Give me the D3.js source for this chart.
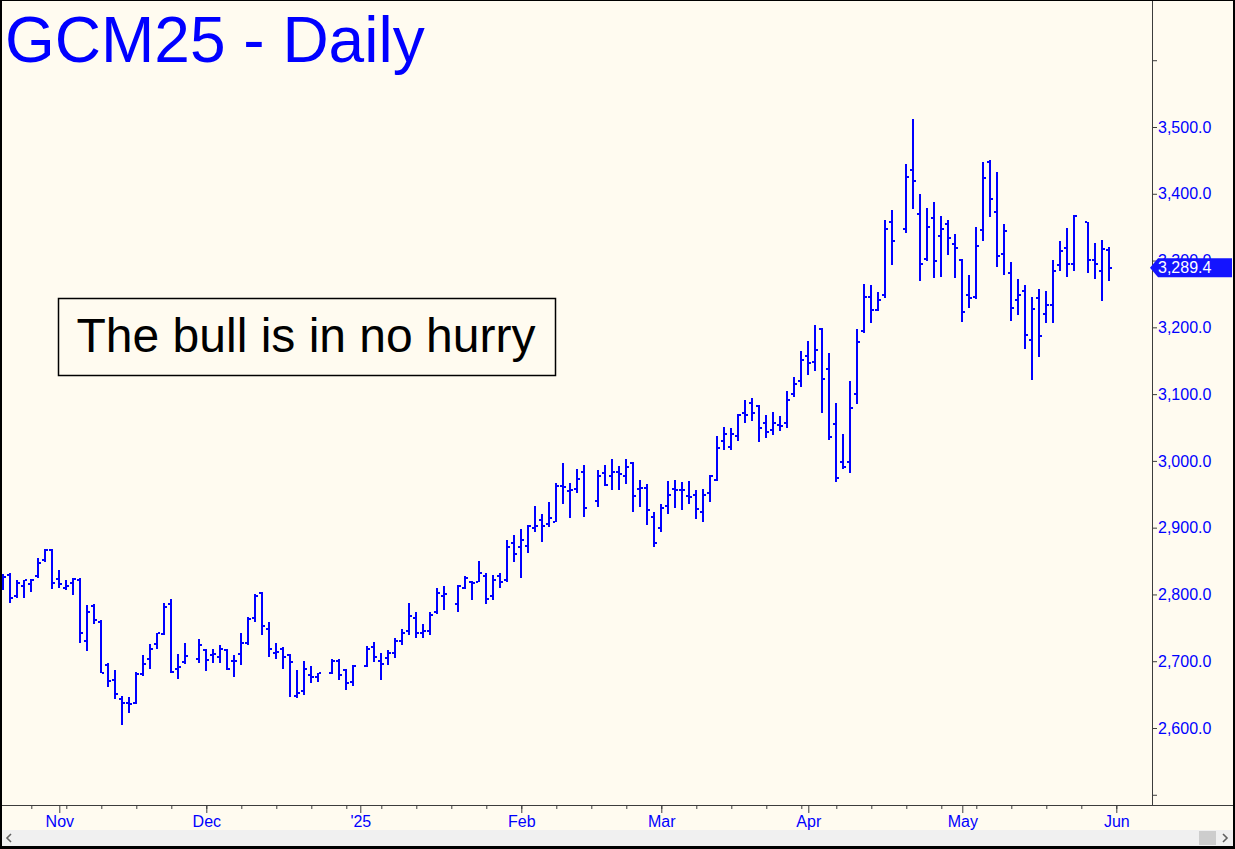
<!DOCTYPE html>
<html><head><meta charset="utf-8">
<script src="https://cdn.jsdelivr.net/npm/d3@7"></script>
<style>html,body{margin:0;padding:0;background:#fffbf0;overflow:hidden}</style>
</head><body>
<svg id="c" width="1235" height="849"></svg>
<script>
// ---- data ----
const firstSlot = "2024-10-22";   // first weekday slot shown
const lastSlot = "2025-06-06";    // last weekday slot of the axis
const opens = [2822,2829,2797,2813,2815,2827,2852,2867,
2823,2809,2817,2822,2731,2783,2759,2694,2672,2643,
2637,2637,2681,2703,2726,2741,2786,2689,2699,null,
2704,2717,2709,2706,2717,2700,2711,2727,2764,2802,
2748,2713,2719,2709,2648,2655,2679,2676,null,2682,
2701,2687,2669,null,2693,2722,2701,2705,2712,2730,
2745,2765,2742,2745,2773,2798,null,2786,2809,2819,
2818,2827,2798,2827,2822,2877,2871,2873,2899,2912,
2906,2909,2963,2955,2958,2984,null,2940,2982,2978,
2983,2978,2997,2958,2959,2916,2899,2932,2958,2957,
2948,2949,2923,2952,2971,3030,3021,3038,3071,3086,
3082,3056,3046,3054,3056,3100,3120,3157,3148,3198,
3137,3055,2998,2998,3100,3194,3246,3226,3249,3358,
null,3347,3436,3369,3302,3363,3337,3355,3325,3301,
3249,3246,3346,3447,3373,3310,3281,3241,3254,3181,
3244,3220,3234,3294,3319,3295,null,3357,3301,3285,
3316];
const highs = [2831,2832,2822,2822,2823,2854,2868,2868,
2837,2822,2824,2824,2784,2786,2761,2697,2687,2648,
2646,2684,2709,2726,2743,2787,2793,2711,2727,null,
2733,2718,2719,2724,2718,2709,2743,2766,2801,2803,
2759,2728,2722,2711,2687,2700,2693,2683,null,2703,
2703,2688,2694,null,2723,2729,2713,2717,2735,2748,
2787,2774,2755,2774,2809,2812,null,2814,2827,2820,
2850,2832,2829,2832,2881,2889,2898,2904,2932,2921,
2939,2967,2997,2967,2988,2994,null,2987,2994,3003,
2992,3003,2998,2971,2966,2924,2936,2970,2972,2968,
2970,2956,2958,2979,3037,3051,3050,3070,3091,3094,
3084,3068,3073,3067,3105,3126,3164,3180,3204,3199,
3162,3087,3040,3120,3198,3265,3264,3253,3361,3375,
null,3445,3512,3399,3379,3387,3366,3361,3340,3302,
3279,3350,3447,3451,3433,3355,3298,3273,3264,3246,
3257,3255,3301,3330,3349,3368,null,3358,3326,3331,
3320];
const lows = [2807,2787,2794,2794,2803,2824,2848,2808,
2809,2807,2799,2727,2716,2755,2682,2661,2643,2605,
2623,2636,2678,2688,2719,2739,2682,2673,2696,null,
2698,2686,2698,2698,2687,2676,2694,2724,2758,2739,
2707,2704,2689,2646,2645,2650,2667,2669,null,2681,
2672,2657,2663,null,2691,2699,2672,2695,2705,2725,
2740,2735,2735,2740,2771,2777,null,2773,2808,2791,
2818,2786,2791,2809,2819,2849,2825,2862,2894,2879,
2901,2908,2936,2914,2952,2916,null,2931,2962,2956,
2956,2966,2923,2931,2904,2871,2893,2920,2930,2927,
2936,2913,2909,2938,2970,3016,3017,3030,3057,3059,
3029,3034,3039,3045,3050,3095,3110,3128,3135,3071,
3031,2969,2988,2982,3085,3191,3207,3224,3244,3294,
null,3342,3377,3269,3299,3274,3276,3308,3274,3208,
3229,3242,3330,3365,3291,3278,3209,3218,3168,3121,
3155,3207,3206,3285,3276,3284,null,3281,3272,3240,
3269];
const closes = [2826,2794,2817,2821,2822,2847,2867,2817,
2816,2813,2823,2743,2774,2762,2683,2671,2651,2637,
2636,2681,2696,2719,2742,2781,2684,2691,2708,null,
2724,2702,2711,2718,2689,2701,2728,2763,2798,2753,
2719,2714,2706,2699,2653,2689,2676,2682,null,2701,
2679,2667,2693,null,2719,2706,2696,2712,2730,2742,
2767,2742,2745,2769,2802,2801,null,2812,2824,2817,
2832,2793,2822,2818,2871,2861,2882,2902,2903,2903,
2914,2963,2961,2957,2973,2929,null,2978,2964,2983,
2981,2991,2948,2959,2926,2877,2929,2949,2956,2956,
2946,2928,2949,2977,3019,3040,3040,3068,3069,3071,
3049,3044,3056,3052,3091,3115,3151,3147,3166,3122,
3036,2974,2991,3079,3178,3245,3226,3241,3347,3330,
null,3425,3419,3295,3350,3300,3348,3334,3319,3223,
3244,3322,3424,3392,3307,3345,3229,3249,3189,3227,
3187,3234,3285,3315,3295,3367,null,3301,3295,3318,
3289.4];
const monthTicks = ["2024-11-01","2024-12-02","2025-01-01","2025-02-03","2025-03-03","2025-04-01","2025-05-01","2025-06-02"];
const monthLabels = ["Nov","Dec","'25","Feb","Mar","Apr","May","Jun"];
const priceTicks = [2500,2600,2700,2800,2900,3000,3100,3200,3300,3400,3500,3600];
const labeledTicks = [2600,2700,2800,2900,3000,3100,3200,3300,3400,3500];
const lastPrice = 3289.4;
const titleText = "GCM25 - Daily";
const noteText = "The bull is in no hurry";

// ---- setup ----
const W = 1235, H = 849;
const BG = "#fffbf0", BLUE = "#0000ff", AX = "#3c3c3c";
const FONT = "'Liberation Sans', Arial, sans-serif";
const svg = d3.select("#c");
const parse = d3.timeParse("%Y-%m-%d");
const fmt = d3.timeFormat("%Y-%m-%d");

svg.append("rect").attr("width", W).attr("height", H).attr("fill", BG);

const slots = d3.timeDay.range(parse(firstSlot), d3.timeDay.offset(parse(lastSlot), 1))
  .filter(d => d.getDay() !== 0 && d.getDay() !== 6);
const keys = slots.map(fmt);
const x = d3.scalePoint().domain(keys).range([3.3, 3.3 + 7 * (keys.length - 1)]);
const y = d3.scaleLinear().domain([2600, 3500]).range([728, 127]);

const plotRight = 1152, plotBottom = 805;

// title
svg.append("text").attr("x", 5).attr("y", 62).attr("fill", BLUE)
  .attr("font-family", FONT).attr("font-size", 64).text(titleText);

// bars
const bars = keys.slice(0, opens.length).map((k, j) => ({k, o: opens[j], h: highs[j], l: lows[j], c: closes[j]}))
  .filter(d => d.o != null);
const g = svg.append("g").attr("fill", BLUE).attr("shape-rendering", "crispEdges");
bars.forEach(d => {
  const cx = Math.round(x(d.k));
  const yh = Math.round(y(d.h)), yl = Math.round(y(d.l));
  g.append("rect").attr("x", cx - 1).attr("y", yh).attr("width", 2).attr("height", Math.max(2, yl - yh));
  g.append("rect").attr("x", cx - 3).attr("y", Math.round(y(d.o)) - 1).attr("width", 2).attr("height", 2);
  g.append("rect").attr("x", cx + 1).attr("y", Math.round(y(d.c)) - 1).attr("width", 2).attr("height", 2);
});

// note box
svg.append("rect").attr("x", 58.5).attr("y", 298.5).attr("width", 497).attr("height", 77)
  .attr("fill", BG).attr("stroke", "#000").attr("stroke-width", 1.5);
svg.append("text").attr("x", 306).attr("y", 352).attr("text-anchor", "middle")
  .attr("font-family", FONT).attr("font-size", 48).attr("fill", "#000").text(noteText);

// right axis
const yAxis = d3.axisRight(y).tickValues(priceTicks).tickSize(5).tickPadding(1)
  .tickFormat(d => labeledTicks.includes(d) ? d3.format(",.1f")(d) : "");
const ya = svg.append("g").attr("transform", `translate(${plotRight},0)`).call(yAxis);
ya.select(".domain").remove();
ya.selectAll("line").attr("stroke", AX);
ya.selectAll("text").attr("fill", BLUE).attr("font-family", FONT).attr("font-size", 16);
svg.append("line").attr("x1", plotRight + 0.5).attr("x2", plotRight + 0.5).attr("y1", 0).attr("y2", plotBottom)
  .attr("stroke", AX).attr("stroke-width", 1);

// bottom axis
const mondays = slots.filter(d => d.getDay() === 1).map(fmt);
const xMinor = d3.axisBottom(x).tickValues(mondays).tickSize(4).tickFormat("");
const xm = svg.append("g").attr("transform", `translate(0,${plotBottom})`).call(xMinor);
xm.select(".domain").remove();
xm.selectAll("line").attr("stroke", AX);
const xMajor = d3.axisBottom(x).tickValues(monthTicks).tickSize(8).tickPadding(3)
  .tickFormat((d, i) => monthLabels[i]);
const xa = svg.append("g").attr("transform", `translate(0,${plotBottom})`).call(xMajor);
xa.select(".domain").remove();
xa.selectAll("line").attr("stroke", AX);
xa.selectAll("text").attr("fill", BLUE).attr("font-family", FONT).attr("font-size", 16);
svg.append("line").attr("x1", 0).attr("x2", W).attr("y1", plotBottom + 0.5).attr("y2", plotBottom + 0.5)
  .attr("stroke", AX).attr("stroke-width", 1);

// last price marker
const yp = y(lastPrice);
svg.append("path")
  .attr("d", `M${plotRight - 2},${yp} L${plotRight + 6},${yp - 9.5} L1232,${yp - 9.5} L1232,${yp + 9.5} L${plotRight + 6},${yp + 9.5} Z`)
  .attr("fill", "#1414ff");
svg.append("text").attr("x", plotRight + 6).attr("y", yp).attr("dy", "0.35em")
  .attr("font-family", FONT).attr("font-size", 16).attr("fill", "#fff").text(d3.format(",.1f")(lastPrice));

// scrollbar
svg.append("rect").attr("x", 0).attr("y", 830).attr("width", W).attr("height", 16).attr("fill", "#f0f0f0");
svg.append("rect").attr("x", 1199).attr("y", 831).attr("width", 17).attr("height", 14).attr("fill", "#cdcdcd");
svg.append("path").attr("d", "M11,834 L7,838 L11,842").attr("fill", "none").attr("stroke", "#606060").attr("stroke-width", 1.6);
svg.append("path").attr("d", "M1223,834 L1227,838 L1223,842").attr("fill", "none").attr("stroke", "#606060").attr("stroke-width", 1.6);

// frame
svg.append("rect").attr("x", 0).attr("y", 0).attr("width", W).attr("height", 1).attr("fill", "#000");
svg.append("rect").attr("x", 0).attr("y", 0).attr("width", 2).attr("height", H).attr("fill", "#000");
svg.append("rect").attr("x", W - 2).attr("y", 0).attr("width", 2).attr("height", H).attr("fill", "#000");
svg.append("rect").attr("x", 0).attr("y", 846).attr("width", W).attr("height", 3).attr("fill", "#000");
</script>
</body></html>
